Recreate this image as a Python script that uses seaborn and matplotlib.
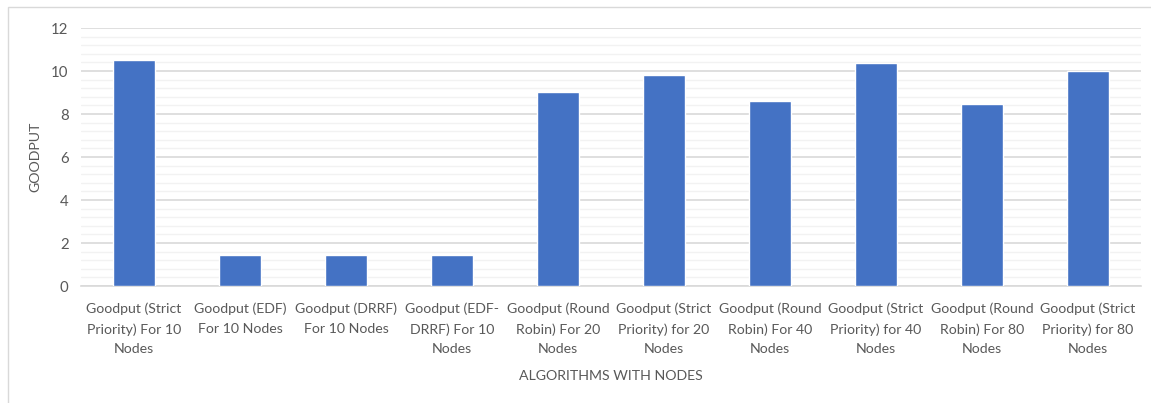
import matplotlib
matplotlib.use("Agg")
import matplotlib.pyplot as plt
from matplotlib.ticker import MultipleLocator
from matplotlib.patches import Rectangle
import seaborn as sns
import pandas as pd

categories = [
    "Goodput (Strict\nPriority) For 10\nNodes",
    "Goodput (EDF)\nFor 10 Nodes",
    "Goodput (DRRF)\nFor 10 Nodes",
    "Goodput (EDF-\nDRRF) For 10\nNodes",
    "Goodput (Round\nRobin) For 20\nNodes",
    "Goodput (Strict\nPriority) for 20\nNodes",
    "Goodput (Round\nRobin) For 40\nNodes",
    "Goodput (Strict\nPriority) for 40\nNodes",
    "Goodput (Round\nRobin) For 80\nNodes",
    "Goodput (Strict\nPriority) for 80\nNodes",
]
goodput = [10.5, 1.44, 1.44, 1.44, 9.02, 9.81, 8.6, 10.37, 8.45, 9.98]

sns.set_theme(style="white")
plt.rcParams["font.family"] = ["Lato", "DejaVu Sans"]

text_color = "#595959"
bar_color = "#4472C4"
fs = 10.2

df = pd.DataFrame({"algorithm": categories, "goodput": goodput})

fig = plt.figure(figsize=(11.51, 4.03), dpi=100)
ax = fig.add_axes([0.0704, 0.2903, 0.9209, 0.6402])

# chart frame
fig.patches.append(Rectangle((0.007, -0.1), 1.2, 1.082, transform=fig.transFigure,
                             fill=False, edgecolor="#d9d9d9", linewidth=1.0, zorder=0))

sns.barplot(data=df, x="algorithm", y="goodput", color=bar_color,
            saturation=1, width=0.4, ax=ax, zorder=3)

ax.set_ylim(0, 12)
ax.set_xlim(-0.5, 9.5)
ax.yaxis.set_major_locator(MultipleLocator(2))
ax.yaxis.set_minor_locator(MultipleLocator(0.4))
ax.grid(axis="y", which="major", color="#d9d9d9", linewidth=1.2, zorder=0)
ax.grid(axis="y", which="minor", color="#f2f2f2", linewidth=1.0, zorder=0)
ax.grid(axis="x", visible=False)
for side in ["top", "right", "left"]:
    ax.spines[side].set_visible(False)
ax.spines["bottom"].set_color("#d9d9d9")
ax.spines["bottom"].set_linewidth(1.2)

ax.tick_params(axis="both", which="both", length=0, colors=text_color, labelsize=fs)
ax.tick_params(axis="y", labelsize=10.8, pad=9)
ax.tick_params(axis="x", pad=12)
for lbl in ax.get_xticklabels():
    lbl.set_linespacing(1.75)

ax.set_xlabel("ALGORITHMS WITH NODES", color=text_color, fontsize=fs, labelpad=11)
ax.set_ylabel("GOODPUT", color=text_color, fontsize=fs, labelpad=7)

fig.savefig("out.png", dpi=100, facecolor="white")
